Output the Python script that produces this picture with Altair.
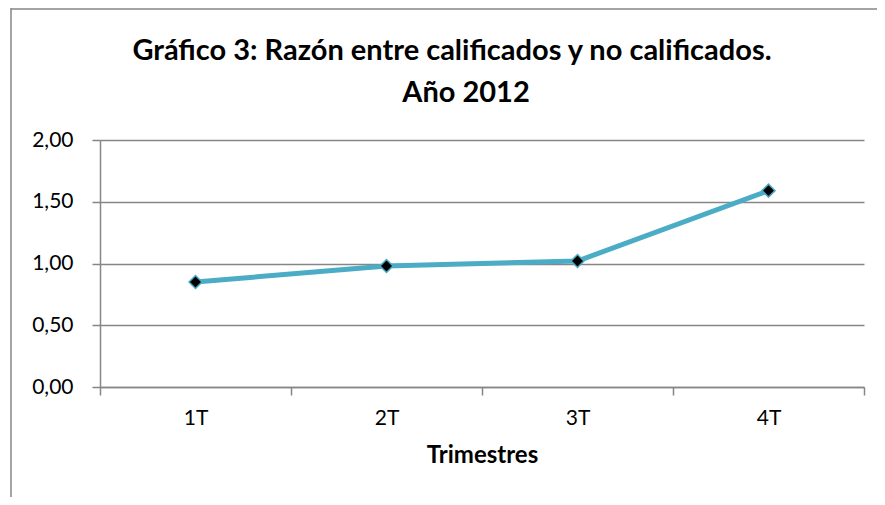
import altair as alt
import pandas as pd

trimestres = ["1T", "2T", "3T", "4T"]
razon = [0.85, 0.98, 1.02, 1.59]
y_ticks = [0, 0.5, 1.0, 1.5, 2.0]
title_lines = ["Gráfico 3: Razón entre calificados y no calificados.", "Año 2012"]

df = pd.DataFrame({"Trimestre": trimestres, "Razon": razon})

FONT = "Lato"
GRID = "#868686"
LINE = "#4BACC6"

x_enc = alt.X(
    "Trimestre:N",
    sort=trimestres,
    bandPosition=0.5,
    scale=alt.Scale(type="band", paddingInner=0, paddingOuter=0),
    axis=alt.Axis(
        title="Trimestres",
        labelAngle=0,
        tickBand="extent",
        domainColor=GRID,
        domainWidth=1.5,
        tickColor=GRID,
        tickWidth=1.5,
        tickSize=8,
        labelFontSize=21,
        labelFont=FONT,
        labelColor="black",
        labelPadding=12,
        titleFont=FONT,
        titleFontSize=24,
        titleFontWeight="bold",
        titleColor="black",
        titlePadding=15,
        grid=False,
    ),
)
y_enc = alt.Y(
    "Razon:Q",
    scale=alt.Scale(domain=[0, 2]),
    axis=alt.Axis(
        title=None,
        values=y_ticks,
        labelExpr="replace(format(datum.value, '.2f'), '.', ',')",
        grid=True,
        gridColor=GRID,
        gridWidth=1.5,
        domainColor=GRID,
        domainWidth=1.5,
        tickColor=GRID,
        tickWidth=1.5,
        tickSize=8,
        labelFontSize=21,
        labelFont=FONT,
        labelColor="black",
        labelPadding=19,
    ),
)

line = alt.Chart(df).mark_line(color=LINE, strokeWidth=5).encode(x=x_enc, y=y_enc)
pts = alt.Chart(df).mark_point(
    shape="diamond", filled=True, fill="black", stroke=LINE, strokeWidth=1.5, size=170, opacity=1
).encode(x=x_enc, y=y_enc)

frame = pd.DataFrame({"k": [0]})
left_border = alt.Chart(frame).mark_rule(color=GRID, strokeWidth=1.5).encode(
    x=alt.value(-89), y=alt.value(-132), y2=alt.value(370)
)
top_border = alt.Chart(frame).mark_rule(color=GRID, strokeWidth=1.5).encode(
    x=alt.value(-89), x2=alt.value(777), y=alt.value(-131)
)

title_style = dict(font=FONT, fontSize=29, fontWeight="bold", color="black",
                   align="center", baseline="alphabetic")
title1 = alt.Chart(frame).mark_text(text=title_lines[0], **title_style).encode(
    x=alt.value(352), y=alt.value(-80)
)
title2 = alt.Chart(frame).mark_text(text=title_lines[1], **title_style).encode(
    x=alt.value(366), y=alt.value(-38)
)

chart = alt.layer(left_border, top_border, title1, title2, line, pts).properties(
    width=764,
    height=247,
    autosize=alt.AutoSizeParams(type="none"),
    padding={"left": 92, "top": 132, "right": 13, "bottom": 110},
).configure_view(stroke=None)

chart.save("out.html", embed_options={"renderer": "svg", "actions": False})
